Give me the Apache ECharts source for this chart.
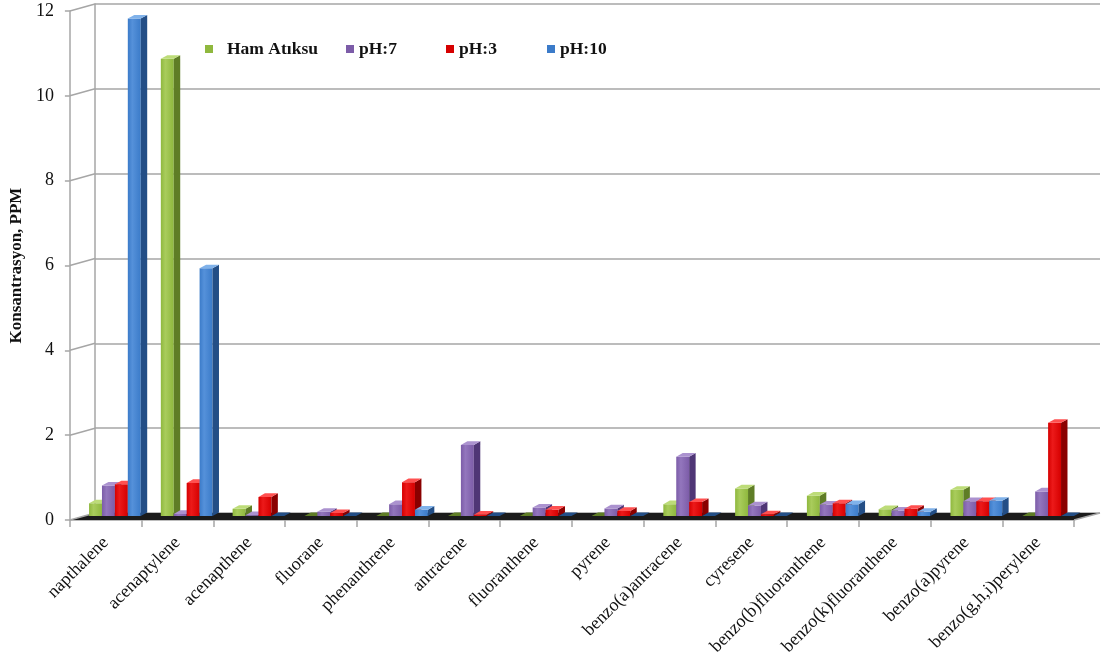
<!DOCTYPE html>
<html>
<head>
<meta charset="utf-8">
<script src="https://cdn.jsdelivr.net/npm/echarts@6/dist/echarts.min.js"></script>
<style>
  html, body { margin: 0; padding: 0; background: #fff; }
  #chart { width: 1101px; height: 660px; }
</style>
</head>
<body>
<div id="chart"></div>
<script>
// PAH concentrations (PPM) per compound and treatment
const categories = ['napthalene', 'acenaptylene', 'acenapthene', 'fluorane', 'phenanthrene', 'antracene',
  'fluoranthene', 'pyrene', 'benzo(a)antracene', 'cyresene', 'benzo(b)fluoranthene',
  'benzo(k)fluoranthene', 'benzo(a)pyrene', 'benzo(g,h,i)perylene'];
const hamAtiksu = [0.3, 10.8, 0.17, 0, 0, 0, 0, 0, 0.28, 0.65, 0.48, 0.16, 0.62, 0];
const ph7 = [0.72, 0.05, 0.02, 0.1, 0.28, 1.68, 0.2, 0.18, 1.4, 0.25, 0.27, 0.13, 0.35, 0.58];
const ph3 = [0.75, 0.78, 0.45, 0.07, 0.8, 0.03, 0.15, 0.12, 0.33, 0.04, 0.3, 0.17, 0.35, 2.2];
const ph10 = [11.75, 5.85, 0, 0, 0.15, 0, 0, 0, 0, 0, 0.28, 0.1, 0.36, 0];
const seriesNames = ['Ham Atıksu', 'pH:7', 'pH:3', 'pH:10'];
const valueTicks = [0, 2, 4, 6, 8, 10, 12];

const palette = [
  { face: '#8fb83e', light: '#a9cc5c', side: '#5f7d26', top: '#bddc78' },
  { face: '#7c5ca8', light: '#9376bd', side: '#4f3676', top: '#ab92cf' },
  { face: '#d60000', light: '#ec1a1a', side: '#8a0000', top: '#ff5050' },
  { face: '#3b7bc9', light: '#5591da', side: '#234e86', top: '#80b2ea' }
];

const serif = '"Liberation Serif", "DejaVu Serif", serif';
const chart = echarts.init(document.getElementById('chart'));

// Box-shaped bar: front face, darker right side, lighter top
function boxRenderer(idx) {
  const c = palette[idx];
  return function (params, api) {
    const cat = api.value(0);
    const v = api.value(1);
    const base = api.coord([cat, 0]);
    const top = api.coord([cat, v]);
    const catW = api.size([1, 0])[0];
    const w = catW * 0.18;
    const x0 = base[0] + (idx - 2) * w;
    const dx = w * 0.5, dy = -w * 0.28;
    const h = base[1] - top[1];
    const children = [];
    if (h > 0.5) {
      children.push({
        type: 'rect',
        shape: { x: x0, y: top[1], width: w, height: h },
        style: {
          fill: new echarts.graphic.LinearGradient(0, 0, 1, 0, [
            { offset: 0, color: c.face },
            { offset: 0.35, color: c.light },
            { offset: 1, color: c.face }
          ])
        }
      });
      children.push({
        type: 'polygon',
        shape: { points: [[x0 + w, top[1]], [x0 + w + dx, top[1] + dy], [x0 + w + dx, base[1] + dy], [x0 + w, base[1]]] },
        style: { fill: c.side }
      });
    }
    children.push({
      type: 'polygon',
      shape: { points: [[x0, top[1]], [x0 + dx, top[1] + dy], [x0 + w + dx, top[1] + dy], [x0 + w, top[1]]] },
      style: { fill: h > 0.5 ? c.top : c.side }
    });
    return { type: 'group', children: children };
  };
}

const seriesData = [hamAtiksu, ph7, ph3, ph10];

const legendLefts = [200, 341, 441, 542];

const option = {
  backgroundColor: '#fff',
  animation: false,
  grid: [
    // front plane: axes, ticks and labels
    { left: 69, right: 27, top: 11, bottom: 140 },
    // back wall: gridlines
    { left: 95, right: 1, top: 4, bottom: 147 },
    // mid depth: bars
    { left: 79, right: 17, top: 8, bottom: 144 }
  ],
  legend: seriesNames.map((name, i) => ({
    data: [name],
    left: legendLefts[i],
    top: 35,
    icon: 'rect',
    itemWidth: 8,
    itemHeight: 8,
    itemGap: 0,
    selectedMode: false,
    textStyle: {
      fontFamily: serif, fontSize: 17.5, fontWeight: 'bold', color: '#111',
      padding: i === 0 ? [0, 0, 0, 9] : [0, 0, 0, 0]
    }
  })),
  xAxis: [
    {
      gridIndex: 0, type: 'category', data: categories,
      axisLine: { lineStyle: { color: '#a6a6a6', width: 1.5 } },
      axisTick: { show: true, length: 7, lineStyle: { color: '#a6a6a6', width: 1.5 } },
      axisLabel: { rotate: 45, fontFamily: serif, fontSize: 18, color: '#111', margin: 20, interval: 0 }
    },
    {
      gridIndex: 1, type: 'category', data: categories,
      axisLine: { show: false }, axisTick: { show: false }, axisLabel: { show: false }
    },
    {
      gridIndex: 2, type: 'category', data: categories,
      axisLine: { show: false }, axisTick: { show: false }, axisLabel: { show: false }
    }
  ],
  yAxis: [
    {
      gridIndex: 0, type: 'value', min: 0, max: 12, interval: 2,
      name: 'Konsantrasyon, PPM', nameLocation: 'middle', nameRotate: 90, nameGap: 42,
      nameTextStyle: { fontFamily: serif, fontSize: 17, fontWeight: 'bold', color: '#111' },
      axisLine: { show: true, lineStyle: { color: '#a6a6a6', width: 1.5 } },
      axisTick: { show: true, length: 5, lineStyle: { color: '#a6a6a6', width: 1.5 } },
      axisLabel: { fontFamily: serif, fontSize: 18, color: '#111', margin: 16 },
      splitLine: { show: false }
    },
    {
      gridIndex: 1, type: 'value', min: 0, max: 12, interval: 2,
      axisLine: { show: true, lineStyle: { color: '#a6a6a6', width: 1.5 } },
      axisTick: { show: false }, axisLabel: { show: false },
      splitLine: { show: true, lineStyle: { color: '#a6a6a6', width: 1.5 } }
    },
    {
      gridIndex: 2, type: 'value', min: 0, max: 12, interval: 2,
      axisLine: { show: false }, axisTick: { show: false }, axisLabel: { show: false },
      splitLine: { show: false }
    }
  ],
  series: seriesNames.map((name, i) => ({
    name: name,
    type: 'custom',
    xAxisIndex: 2,
    yAxisIndex: 2,
    z: 3 + i,
    itemStyle: { color: palette[i].face },
    renderItem: boxRenderer(i),
    data: seriesData[i].map((v, k) => [k, v])
  }))
};

chart.setOption(option);

// Edges of a grid's plot area at value v, taken from its category centres
function edges(gridIndex, v) {
  const n = categories.length;
  const c0 = chart.convertToPixel({ gridIndex: gridIndex }, [0, v]);
  const c1 = chart.convertToPixel({ gridIndex: gridIndex }, [1, v]);
  const cn = chart.convertToPixel({ gridIndex: gridIndex }, [n - 1, v]);
  const half = (c1[0] - c0[0]) / 2;
  return { left: [c0[0] - half, c0[1]], right: [cn[0] + half, cn[1]] };
}

// Floor slab and the side-wall connectors between front and back planes
const f0 = edges(0, 0);
const b0 = edges(1, 0);
const graphics = [{
  type: 'polygon', z: 1,
  shape: { points: [f0.left, f0.right, b0.right, b0.left] },
  style: { fill: '#1b1b1b' }
}, {
  type: 'line', z: 1,
  shape: { x1: f0.right[0], y1: f0.right[1], x2: b0.right[0], y2: b0.right[1] },
  style: { stroke: '#a6a6a6', lineWidth: 1.5 }
}];
valueTicks.forEach(v => {
  const a = edges(0, v).left;
  const b = edges(1, v).left;
  graphics.push({
    type: 'line', z: 1,
    shape: { x1: a[0], y1: a[1], x2: b[0], y2: b[1] },
    style: { stroke: '#a6a6a6', lineWidth: 1.5 }
  });
});
chart.setOption({ graphic: graphics });
</script>
</body>
</html>
